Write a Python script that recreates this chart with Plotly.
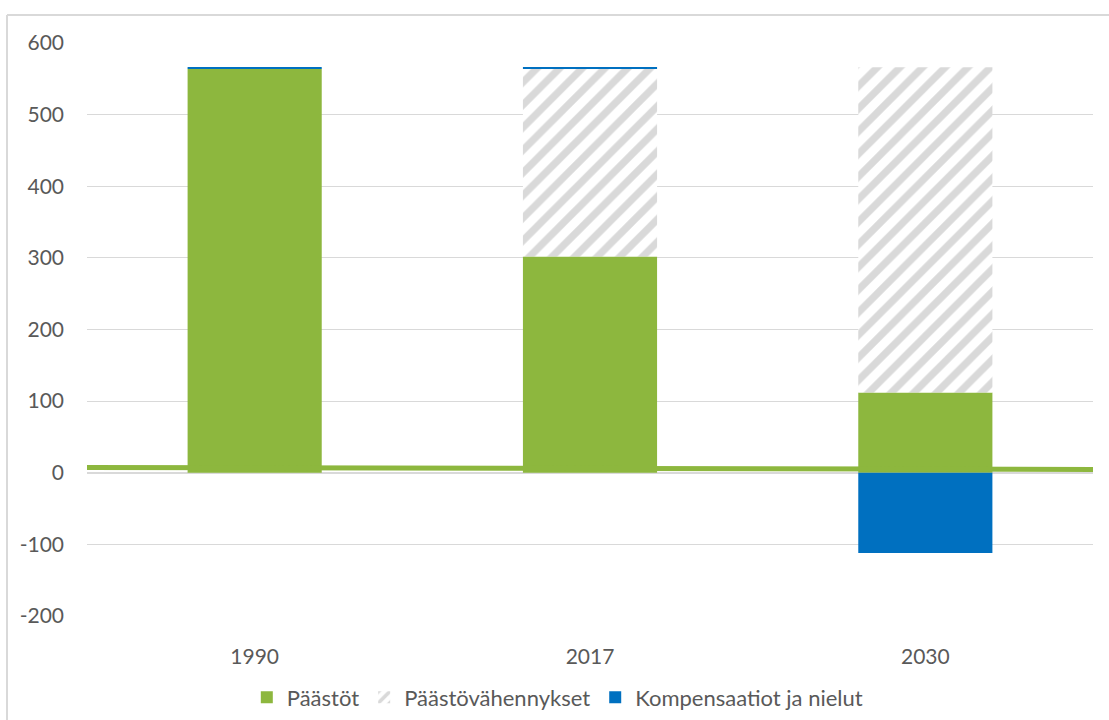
import plotly.graph_objects as go

# Categories and series (Mt CO2-ekv.)
years = ["1990", "2017", "2030"]
paastot = [564, 302, 112]
vahennykset = [0, 262, 454]
kompensaatiot = [2, 2, -112]

# Thin reference line across the whole plot width (left edge -> right edge)
viiva_x = [0, 1]
viiva_y = [7.5, 4.5]

y_ticks = [-200, -100, 0, 100, 200, 300, 400, 500, 600]
y_labels = ["-200", "-100", "0", "100", "200", "300", "400", "500", "600"]

GREEN = "#8db73e"
BLUE = "#0070c0"
HATCH = "#b3b3b3"
TEXT = "#595959"
GRID = "#d9d9d9"
FONT = "Lato"

W, H = 1109, 720
L, R, T, B = 87, 16, 43, 104

fig = go.Figure()

fig.add_trace(go.Scatter(
    x=viiva_x, y=viiva_y, xaxis="x2", mode="lines",
    line=dict(color=GREEN, width=5), showlegend=False, hoverinfo="skip",
))

fig.add_trace(go.Bar(
    x=years, y=paastot, name="Päästöt", width=0.4,
    marker=dict(color=GREEN, line=dict(width=0)),
))
fig.add_trace(go.Bar(
    x=years, y=vahennykset, name="Päästövähennykset", width=0.4,
    marker=dict(color="white", line=dict(width=0),
                pattern=dict(shape="/", fgcolor=HATCH, bgcolor="white",
                             size=16, solidity=0.45)),
))
fig.add_trace(go.Bar(
    x=years, y=kompensaatiot, name="Kompensaatiot ja nielut", width=0.4,
    marker=dict(color=BLUE, line=dict(width=0)),
))

# Outer chart frame (top and left edges visible)
pw = W - L - R
ph = H - T - B
x0 = (7 - L) / pw
y1 = 1 + (T - 15) / ph
fig.add_shape(type="line", xref="paper", yref="paper", x0=x0, x1=1 + R / pw + 0.01,
              y0=y1, y1=y1, line=dict(color=GRID, width=2), layer="below")
fig.add_shape(type="line", xref="paper", yref="paper", x0=x0, x1=x0,
              y0=y1, y1=-B / ph - 0.01, line=dict(color=GRID, width=2), layer="below")

fig.update_layout(
    width=W, height=H,
    margin=dict(l=L, r=R, t=T, b=B, autoexpand=False),
    paper_bgcolor="white", plot_bgcolor="white",
    barmode="relative", bargap=0.6,
    font=dict(family=FONT, size=21, color=TEXT),
    xaxis=dict(
        type="category", showgrid=False, showline=False, zeroline=False,
        ticks="", tickfont=dict(size=21, color=TEXT), ticklabelstandoff=26,
    ),
    xaxis2=dict(overlaying="x", range=[0, 1], visible=False),
    yaxis=dict(
        range=[-200, 600], tickvals=y_ticks, ticktext=y_labels,
        showgrid=True, gridcolor=GRID, gridwidth=1,
        zeroline=True, zerolinecolor=GRID, zerolinewidth=2,
        showline=False, ticks="", tickfont=dict(size=21, color=TEXT),
        ticklabelstandoff=22,
    ),
    legend=dict(
        orientation="h", x=0.468, xanchor="center", y=-0.142, yanchor="middle",
        font=dict(size=22, color=TEXT), itemwidth=30, traceorder="normal",
    ),
)

fig.write_html("out.html")
